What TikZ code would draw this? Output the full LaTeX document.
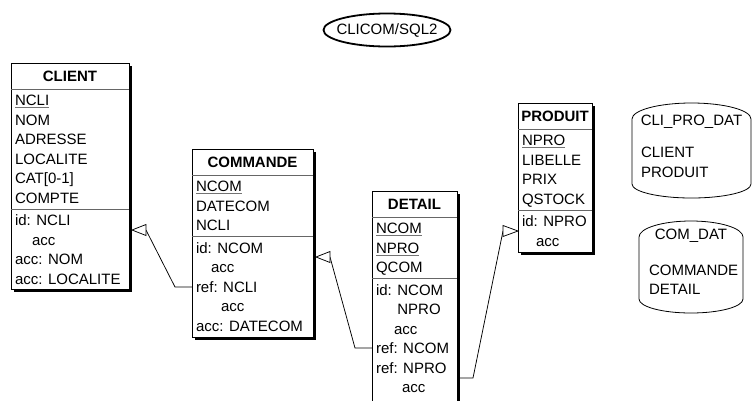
\documentclass[tikz,border=0pt]{standalone}
\usepackage{fontspec}
\setmainfont{Liberation Sans}
\usetikzlibrary{shadows}
\newcommand{\keyattr}[1]{{\color{black!55}\underline{\textcolor{black}{#1}}}}
\begin{document}
\begin{tikzpicture}[x=1pt,y=-1pt,
  every node/.style={font=\fontsize{15}{18}\selectfont, inner sep=0pt, outer sep=0pt},
  entbox/.style={draw=black, line width=0.8pt, fill=white, rectangle, anchor=north west,
    drop shadow={shadow xshift=3pt, shadow yshift=-3pt, fill=black, opacity=1}},
  sepline/.style={draw=black!60, line width=0.8pt},
  attr/.style={anchor=base west},
  ttl/.style={anchor=base, font=\fontsize{15}{18}\selectfont\bfseries},
  link/.style={draw=black, line width=0.75pt},
  opentri/.style={draw=black, fill=white, line width=0.75pt, line join=miter},
  cyl/.style={draw=black, line width=0.8pt},
  schemaline/.style={draw=black, line width=1.8pt}]
\useasboundingbox (0,0) rectangle (752,400);
\clip (0,0) rectangle (752,400);

% schema name
\node (schema) at (387,30) {CLICOM/SQL2};
\draw[schemaline] (schema.center) ellipse [x radius=63.5, y radius=16.5];

% ---------------- CLIENT
\node[entbox, minimum width=118pt, minimum height=226pt] (client) at (11,63) {};
\draw[sepline] (11,89) -- (129,89);
\draw[sepline] (11,209) -- (129,209);
\node[ttl] (client-t) at (70,81.4) {CLIENT};
\node[attr] (client-a1) at (15,105.65) {\keyattr{NCLI}};
\node[attr] (client-a2) at (15,125.15) {NOM};
\node[attr] (client-a3) at (15,144.65) {ADRESSE};
\node[attr] (client-a4) at (15,164.15) {LOCALITE};
\node[attr] (client-a5) at (15,183.65) {CAT[0-1]};
\node[attr] (client-a6) at (15,203.15) {COMPTE};
\node[attr] (client-g1) at (15,225.65) {id: NCLI};
\node[attr] (client-g2) at (32,245.15) {acc};
\node[attr] (client-g3) at (15,264.65) {acc: NOM};
\node[attr] (client-g4) at (15,284.15) {acc: LOCALITE};

% ---------------- COMMANDE
\node[entbox, minimum width=121pt, minimum height=188pt] (commande) at (192,149) {};
\draw[sepline] (192,175) -- (313,175);
\draw[sepline] (192,236.5) -- (313,236.5);
\node[ttl] (commande-t) at (252.5,167.4) {COMMANDE};
\node[attr] (commande-a1) at (196,191.65) {\keyattr{NCOM}};
\node[attr] (commande-a2) at (196,211.15) {DATECOM};
\node[attr] (commande-a3) at (196,230.65) {NCLI};
\node[attr] (commande-g1) at (196,253.15) {id: NCOM};
\node[attr] (commande-g2) at (211,272.65) {acc};
\node[attr] (commande-g3) at (196,292.15) {ref: NCLI};
\node[attr] (commande-g4) at (221,311.65) {acc};
\node[attr] (commande-g5) at (196,331.15) {acc: DATECOM};

% ---------------- DETAIL
\node[entbox, minimum width=85pt, minimum height=212pt] (detail) at (372,191) {};
\draw[sepline] (372,217) -- (457,217);
\draw[sepline] (372,278.5) -- (457,278.5);
\node[ttl] (detail-t) at (414.5,209.4) {DETAIL};
\node[attr] (detail-a1) at (376,233.65) {\keyattr{NCOM}};
\node[attr] (detail-a2) at (376,253.15) {\keyattr{NPRO}};
\node[attr] (detail-a3) at (376,272.65) {QCOM};
\node[attr] (detail-g1) at (376,295.15) {id: NCOM};
\node[attr] (detail-g2) at (376,314.65) {\phantom{id: }NPRO};
\node[attr] (detail-g3) at (394,334.15) {acc};
\node[attr] (detail-g4) at (376,353.65) {ref: NCOM};
\node[attr] (detail-g5) at (376,373.15) {ref: NPRO};
\node[attr] (detail-g6) at (402,392.65) {acc};

% ---------------- PRODUIT
\node[entbox, minimum width=74pt, minimum height=149pt] (produit) at (518,103) {};
\draw[sepline] (518,129) -- (592,129);
\draw[sepline] (518,210) -- (592,210);
\node[ttl] (produit-t) at (555,121.4) {PRODUIT};
\node[attr] (produit-a1) at (522,145.65) {\keyattr{NPRO}};
\node[attr] (produit-a2) at (522,165.15) {LIBELLE};
\node[attr] (produit-a3) at (522,184.65) {PRIX};
\node[attr] (produit-a4) at (522,204.15) {QSTOCK};
\node[attr] (produit-g1) at (522,226.65) {id: NPRO};
\node[attr] (produit-g2) at (536,246.15) {acc};

% ---------------- storage spaces
\draw[cyl] (632,119) arc[start angle=180, end angle=360, x radius=59.5, y radius=16]
  -- (751,184) arc[start angle=0, end angle=180, x radius=59.5, y radius=14] -- cycle;
\node[anchor=base] (cpd-t) at (691.5,125.4) {CLI\_PRO\_DAT};
\node[attr] (cpd-1) at (641,157.4) {CLIENT};
\node[attr] (cpd-2) at (641,177.4) {PRODUIT};

\draw[cyl] (639,237) arc[start angle=180, end angle=360, x radius=52, y radius=16]
  -- (743,299) arc[start angle=0, end angle=180, x radius=52, y radius=14] -- cycle;
\node[anchor=base] (cd-t) at (691,239.4) {COM\_DAT};
\node[attr] (cd-1) at (649,275.4) {COMMANDE};
\node[attr] (cd-2) at (649,294.4) {DETAIL};

% ---------------- connectors
% COMMANDE.ref NCLI -> CLIENT.id
\coordinate (r1s) at (192,287);
\coordinate (r1b) at (175,287);
\coordinate (r1h) at (146,230);
\coordinate (r1t) at (132,230);
\draw[link] (r1s) -- (r1b) -- (r1h);
\draw[opentri] (r1t) -- ([yshift=5.5pt]r1h) -- ([yshift=-5.5pt]r1h) -- cycle;

% DETAIL.ref NCOM -> COMMANDE.id
\coordinate (r2s) at (372,348);
\coordinate (r2b) at (355,348);
\coordinate (r2h) at (330,257);
\coordinate (r2t) at (316,257);
\draw[link] (r2s) -- (r2b) -- (r2h);
\draw[opentri] (r2t) -- ([yshift=5.5pt]r2h) -- ([yshift=-5.5pt]r2h) -- cycle;

% DETAIL.ref NPRO -> PRODUIT.id
\coordinate (r3s) at (460,378);
\coordinate (r3b) at (473,378);
\coordinate (r3h) at (503,231);
\coordinate (r3t) at (518,231);
\draw[link] (r3s) -- (r3b) -- (r3h);
\draw[opentri] (r3t) -- ([yshift=5.5pt]r3h) -- ([yshift=-5.5pt]r3h) -- cycle;
\end{tikzpicture}
\end{document}
